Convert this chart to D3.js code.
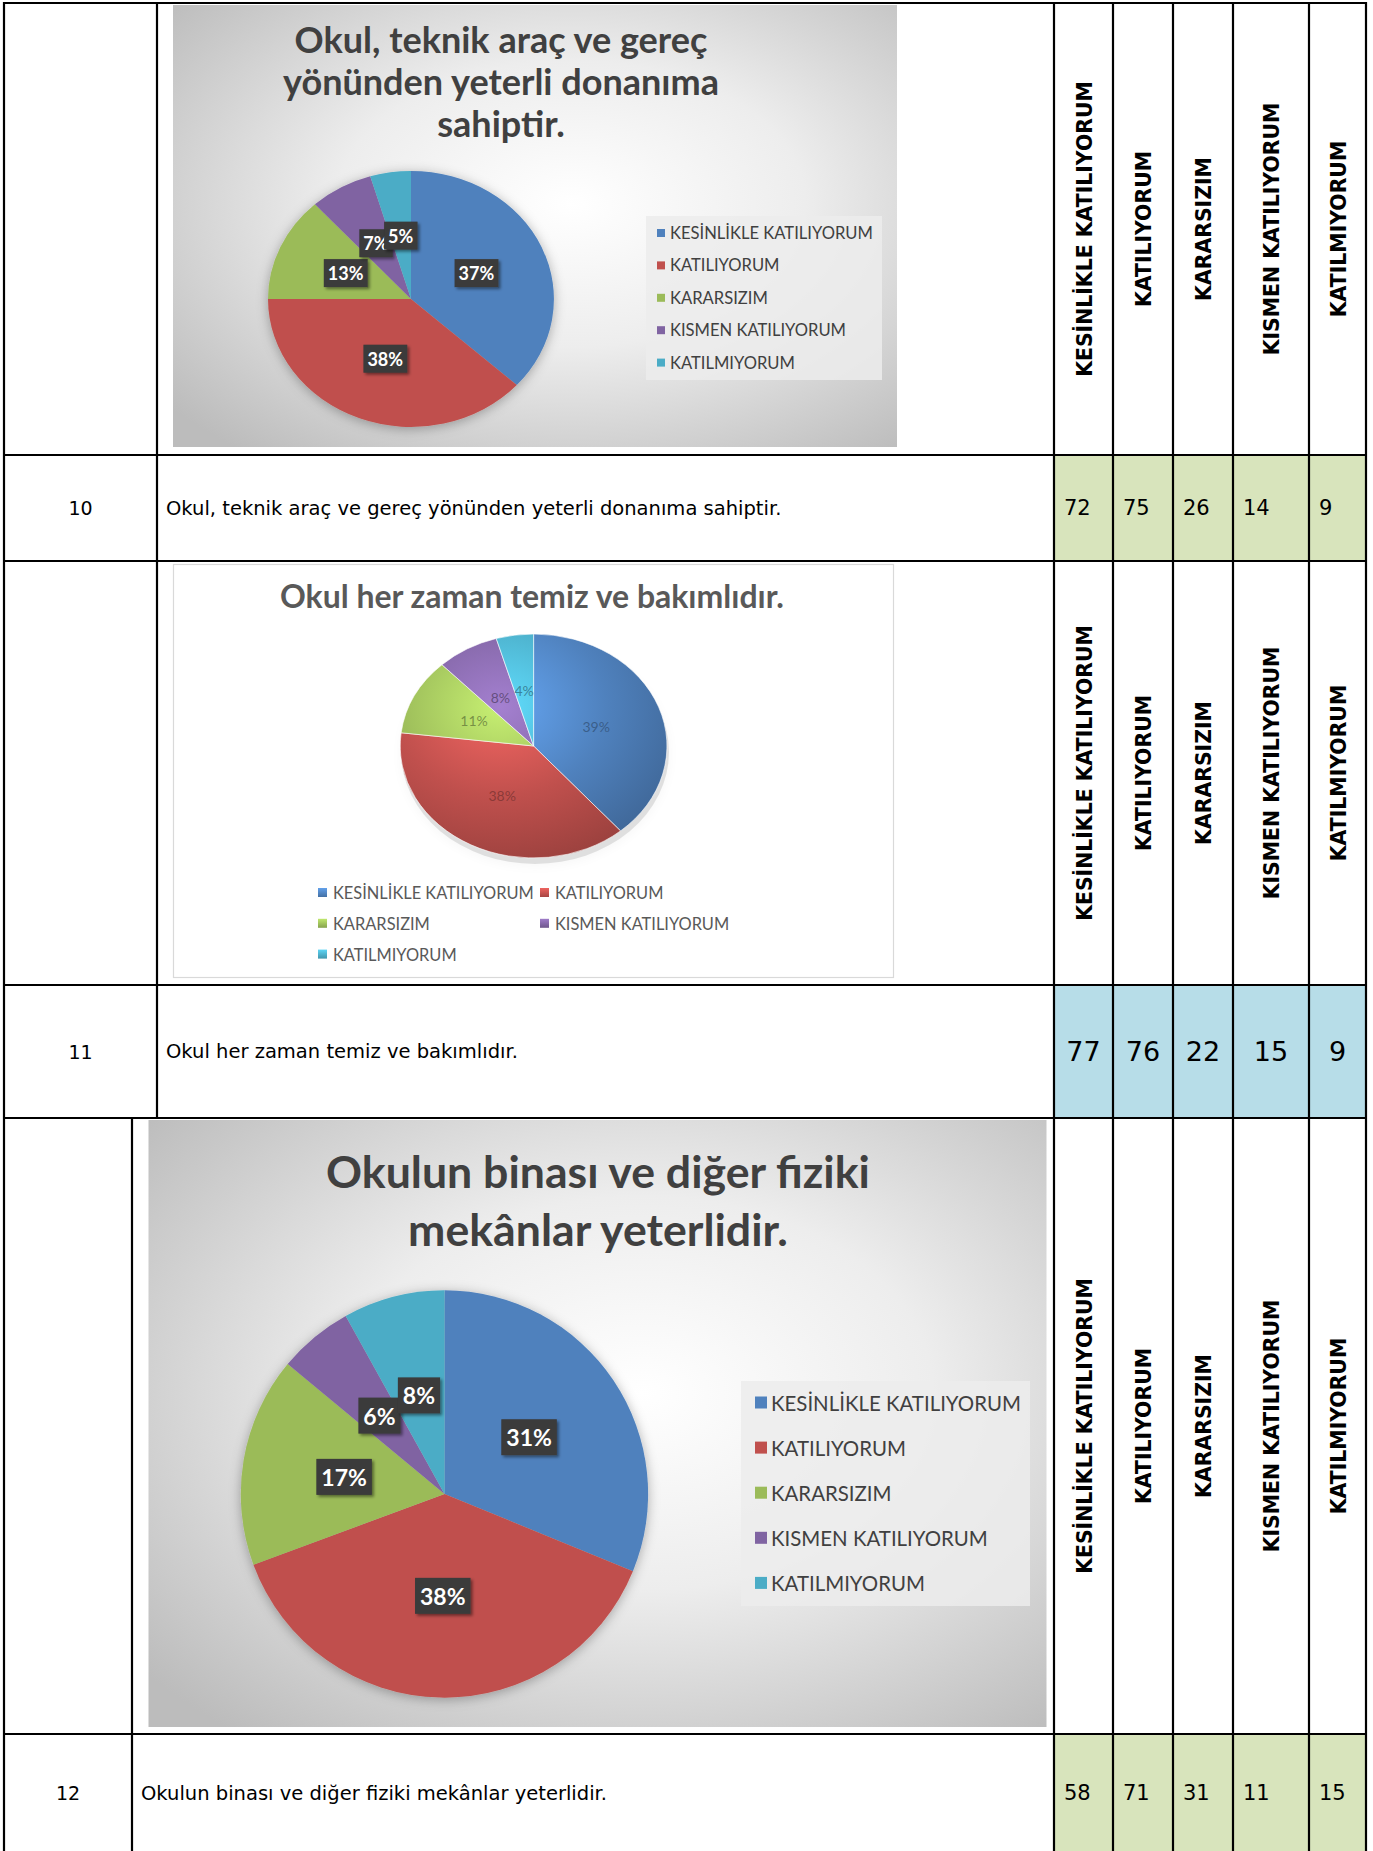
<!DOCTYPE html>
<html><head><meta charset="utf-8">
<script src="https://cdn.jsdelivr.net/npm/d3@7"></script>
<style>body{margin:0;background:#fff}svg{display:block}</style>
</head><body>
<script>
// ---------------- DATA ----------------
const categories = ["KESİNLİKLE KATILIYORUM","KATILIYORUM","KARARSIZIM","KISMEN KATILIYORUM","KATILMIYORUM"];
const rowNumbers = ["10","11","12"];
const statements = [
  "Okul, teknik araç ve gereç yönünden yeterli donanıma sahiptir.",
  "Okul her zaman temiz ve bakımlıdır.",
  "Okulun binası ve diğer fiziki mekânlar yeterlidir."
];
const titles10 = ["Okul, teknik araç ve gereç","yönünden yeterli donanıma","sahiptir."];
const titles11 = ["Okul her zaman temiz ve bakımlıdır."];
const titles12 = ["Okulun binası ve diğer fiziki","mekânlar yeterlidir."];
const values10 = [72,75,26,14,9];
const values11 = [77,76,22,15,9];
const values12 = [58,71,31,11,15];
const pct10 = ["37%","38%","13%","7%","5%"];
const pct11 = ["39%","38%","11%","8%","4%"];
const pct12 = ["31%","38%","17%","6%","8%"];
const sliceColors = ["#4F81BD","#C0504D","#9BBB59","#8064A2","#4BACC6"];

// ---------------- LAYOUT ----------------
const W = 1373, H = 1851;
const svg = d3.select("body").append("svg").attr("width", W).attr("height", H);
const defs = svg.append("defs");

const bg = defs.append("radialGradient").attr("id","bgGrad").attr("cx","55%").attr("cy","45%").attr("r","72%");
bg.append("stop").attr("offset","0").attr("stop-color","#ffffff");
bg.append("stop").attr("offset","0.45").attr("stop-color","#ededed");
bg.append("stop").attr("offset","1").attr("stop-color","#bcbcbc");

const sh = defs.append("filter").attr("id","pieShadow").attr("filterUnits","userSpaceOnUse")
  .attr("x",0).attr("y",0).attr("width",W).attr("height",H);
sh.append("feDropShadow").attr("dx",0).attr("dy",2).attr("stdDeviation",6).attr("flood-color","#000").attr("flood-opacity",0.3);
const lsh = defs.append("filter").attr("id","lblShadow").attr("x","-30%").attr("y","-30%").attr("width","160%").attr("height","160%");
lsh.append("feDropShadow").attr("dx",2).attr("dy",2).attr("stdDeviation",1.5).attr("flood-color","#000").attr("flood-opacity",0.45);

sliceColors.forEach((c,i)=>{
  const g = defs.append("radialGradient").attr("id","g3d"+i).attr("gradientUnits","userSpaceOnUse")
    .attr("cx",-0.25).attr("cy",-0.35).attr("r",1.45);
  g.append("stop").attr("offset","0").attr("stop-color", d3.color(c).brighter(0.7));
  g.append("stop").attr("offset","0.55").attr("stop-color", c);
  g.append("stop").attr("offset","1").attr("stop-color", d3.color(c).darker(0.6));
  const lg = defs.append("linearGradient").attr("id","lg"+i).attr("x1",0).attr("y1",0).attr("x2",0).attr("y2",1);
  lg.append("stop").attr("offset",0).attr("stop-color",d3.color(c).brighter(0.6));
  lg.append("stop").attr("offset",1).attr("stop-color",d3.color(c).darker(0.4));
});

const colX = [4,157,1054,1113,1173,1233,1309,1366];
const colX2 = [4,132,1054,1113,1173,1233,1309,1366];
const rowY = [3,455,561,985,1118,1734,1852];

const CHART_FONT = "Lato, 'Open Sans', sans-serif";
const TABLE_FONT = "'DejaVu Sans', sans-serif";

function fitSize(textSel, target){
  const fs = parseFloat(textSel.attr("font-size"));
  const len = textSel.node().getComputedTextLength();
  return fs * target / len;
}

const pie = d3.pie().sort(null).value(d=>d);
const arc = d3.arc().innerRadius(0).outerRadius(1);

// value cell fills
const fills = [["#d8e4bc",1,2],["#b7dde8",3,4],["#d8e4bc",5,6]];
fills.forEach(([c,a,b])=>{
  svg.append("rect").attr("x",colX[2]).attr("y",rowY[a]).attr("width",colX[7]-colX[2]).attr("height",rowY[b]-rowY[a]).attr("fill",c);
});

// ---------- generic pie ----------
function drawPie(g, values, labels, o){
  const arcs = pie(values);
  const wrap = g.append("g");
  if (o.shadow) wrap.attr("filter","url(#pieShadow)");
  const pg = wrap.append("g").attr("transform",`translate(${o.cx},${o.cy}) scale(${o.rx},${o.ry})`);
  pg.selectAll("path").data(arcs).join("path")
    .attr("d",arc)
    .attr("fill",(d,i)=> o.grad ? `url(#g3d${i})` : sliceColors[i])
    .attr("stroke", o.grad ? "rgba(255,255,255,0.6)" : "none")
    .attr("stroke-width",1).attr("vector-effect","non-scaling-stroke");
  const lg = g.append("g");
  arcs.forEach((d,i)=>{
    const [x,y] = arc.centroid(d);
    const px = o.cx + x*o.rx, py = o.cy + y*o.ry;
    const item = lg.append("g");
    const t = item.append("text").attr("x",px).attr("y",py)
      .attr("text-anchor","middle").attr("dominant-baseline","central")
      .attr("font-family",CHART_FONT).attr("font-size",o.lblSize)
      .attr("font-weight", o.boxed ? 700 : 400)
      .attr("fill", o.boxed ? "#fff" : d3.color(sliceColors[i]).darker(1.3).formatHex())
      .attr("fill-opacity", o.boxed ? 1 : 0.75)
      .text(labels[i]);
    if (o.boxed){
      const bb = t.node().getBBox();
      item.insert("rect","text").attr("x",bb.x-o.padX).attr("y",bb.y-o.padY+1)
        .attr("width",bb.width+2*o.padX).attr("height",bb.height+2*o.padY-2)
        .attr("fill","#3a3a3a").attr("filter","url(#lblShadow)");
    }
  });
}

function drawTitle(g, lines, o){
  const ts = lines.map((l,i)=> g.append("text").attr("x",o.x).attr("y",o.y0 + i*o.dy)
    .attr("text-anchor","middle").attr("dominant-baseline","central")
    .attr("font-family",CHART_FONT).attr("font-weight",700).attr("font-size",30)
    .attr("fill",o.color).text(l));
  const fs = fitSize(ts[0], o.w);
  ts.forEach(t=>t.attr("font-size",fs));
}

function drawLegend(g, o){
  if (o.box) g.append("rect").attr("x",o.box[0]).attr("y",o.box[1]).attr("width",o.box[2]).attr("height",o.box[3]).attr("fill","rgba(236,236,236,0.85)");
  const items = categories.map((c,i)=>{
    const [mx,tx,y] = o.pos(i);
    g.append("rect").attr("x",mx).attr("y",y-o.m/2).attr("width",o.m).attr("height",o.m).attr("fill", o.grad ? `url(#lg${i})` : sliceColors[i]);
    return g.append("text").attr("x",tx).attr("y",y).attr("dominant-baseline","central")
      .attr("font-family",CHART_FONT).attr("font-size",16).attr("fill",o.color).text(c);
  });
  const fs = fitSize(items[0], o.w);
  items.forEach(t=>t.attr("font-size",fs));
}

// ---------- Chart 1 (row 10) ----------
const c1 = svg.append("g");
c1.append("rect").attr("x",173).attr("y",5).attr("width",724).attr("height",442).attr("fill","url(#bgGrad)");
drawTitle(c1, titles10, {x:501, y0:39, dy:42, w:413, color:"#404040"});
drawPie(c1, values10, pct10, {cx:411, cy:299, rx:143, ry:128, shadow:true, boxed:true, lblSize:18, padX:4, padY:4});
drawLegend(c1, {box:[646,216,236,164], m:8, w:203, color:"#404040",
  pos:i=>[657, 670, 233 + i*32.4]});

// ---------- Chart 2 (row 11) ----------
const c2 = svg.append("g");
c2.append("rect").attr("x",173.5).attr("y",564.5).attr("width",720).attr("height",413).attr("fill","#fff").attr("stroke","#d9d9d9").attr("stroke-width",1.2);
drawTitle(c2, titles11, {x:532, y0:595, dy:0, w:504, color:"#595959"});
c2.append("ellipse").attr("cx",535).attr("cy",752).attr("rx",134).attr("ry",112).attr("fill","#000").attr("opacity",0.12).attr("filter","url(#pieShadow)");
drawPie(c2, values11, pct11, {cx:533.6, cy:746, rx:133.4, ry:112, shadow:false, grad:true, boxed:false, lblSize:14});
drawLegend(c2, {m:9, w:201, color:"#595959", grad:true,
  pos:i=>[ i%2===0 ? 318 : 540, i%2===0 ? 333 : 555, 892.5 + Math.floor(i/2)*30.8 ]});

// ---------- Chart 3 (row 12) ----------
const c3 = svg.append("g");
c3.append("rect").attr("x",148.5).attr("y",1120).attr("width",898).attr("height",607).attr("fill","url(#bgGrad)");
drawTitle(c3, titles12, {x:598, y0:1171, dy:58, w:544, color:"#404040"});
drawPie(c3, values12, pct12, {cx:444.5, cy:1494, rx:203.7, ry:203.7, shadow:true, boxed:true, lblSize:23, padX:5, padY:5});
drawLegend(c3, {box:[741,1381,289,225], m:12, w:250, color:"#404040",
  pos:i=>[755, 771, 1402.5 + i*45.1]});

// ---------- Table text ----------
const headerRows = [[rowY[0],rowY[1]],[rowY[2],rowY[3]],[rowY[4],rowY[5]]];
const hdrTexts = [];
headerRows.forEach(([a,b])=>{
  categories.forEach((c,j)=>{
    const x = (colX[j+2]+colX[j+3])/2, y = (a+b)/2;
    hdrTexts.push(svg.append("text").attr("transform",`translate(${x+1},${y}) rotate(-90)`)
      .attr("text-anchor","middle").attr("dominant-baseline","central")
      .attr("font-family",TABLE_FONT).attr("font-weight",700).attr("font-size",19)
      .attr("fill","#000").text(c));
  });
});
const hfs = fitSize(hdrTexts[0], 296);
hdrTexts.forEach(t=>t.attr("font-size",hfs));

const dataRows = [
  {y0:rowY[1], y1:rowY[2], cols:colX,  vals:values10, centered:false, vfs:21},
  {y0:rowY[3], y1:rowY[4], cols:colX,  vals:values11, centered:true,  vfs:27},
  {y0:rowY[5], y1:rowY[6], cols:colX2, vals:values12, centered:false, vfs:21}
];
const stTexts = [];
dataRows.forEach((r,i)=>{
  const cy = (r.y0+r.y1)/2;
  svg.append("text").attr("x",(r.cols[0]+r.cols[1])/2).attr("y",cy)
    .attr("text-anchor","middle").attr("dominant-baseline","central")
    .attr("font-family",TABLE_FONT).attr("font-size",19).text(rowNumbers[i]);
  stTexts.push(svg.append("text").attr("x",r.cols[1]+9).attr("y",cy)
    .attr("dominant-baseline","central")
    .attr("font-family",TABLE_FONT).attr("font-size",17).text(statements[i]));
  r.vals.forEach((v,j)=>{
    const a = r.cols[j+2], b = r.cols[j+3];
    svg.append("text").attr("x", r.centered ? (a+b)/2 : a+10).attr("y",cy)
      .attr("text-anchor", r.centered ? "middle" : "start").attr("dominant-baseline","central")
      .attr("font-family",TABLE_FONT).attr("font-size",r.vfs).text(v);
  });
});
const sfs = fitSize(stTexts[0], 616);
stTexts.forEach(t=>t.attr("font-size",sfs));

// ---------- Table grid ----------
const grid = svg.append("g").attr("stroke","#000").attr("stroke-width",2.2);
rowY.slice(0,6).forEach(y=> grid.append("line").attr("x1",colX[0]-1).attr("x2",colX[7]+1).attr("y1",y).attr("y2",y));
[0,2,3,4,5,6,7].forEach(k=> grid.append("line").attr("x1",colX[k]).attr("x2",colX[k]).attr("y1",rowY[0]-1).attr("y2",H));
grid.append("line").attr("x1",colX[1]).attr("x2",colX[1]).attr("y1",rowY[0]).attr("y2",rowY[4]);
grid.append("line").attr("x1",colX2[1]).attr("x2",colX2[1]).attr("y1",rowY[4]).attr("y2",H);
</script>
</body></html>
